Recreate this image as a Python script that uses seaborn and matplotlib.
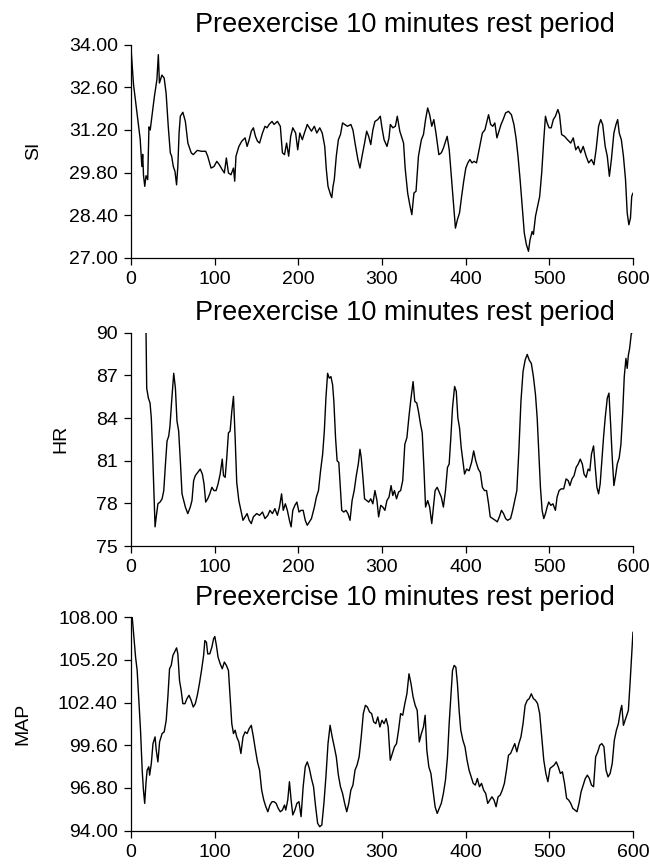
import matplotlib
matplotlib.use("Agg")
import matplotlib.pyplot as plt
import seaborn as sns
import pandas as pd
from matplotlib.ticker import FormatStrFormatter

# ---------------- data (time in s, value) ----------------
title_text = "Preexercise 10 minutes rest period"
x_ticks = [0, 100, 200, 300, 400, 500, 600]

si_label = "SI"
si_ticks = [27.00, 28.40, 29.80, 31.20, 32.60, 34.00]
si_readings = [
    (0, 33.9), (3, 32.7), (7, 31.8), (11, 30.9), (13, 30.0), (14, 30.4), (15, 29.7), (16.5, 29.35),
    (18, 29.7), (20, 29.57), (21.5, 31.3), (23, 31.2), (25, 31.65), (28, 32.3), (31, 32.85), (32.7, 33.67),
    (34, 32.74), (37, 33.0), (39.7, 32.9), (42, 32.4), (44.6, 31.3), (47, 30.45), (48.6, 30.34), (50.6, 30.0),
    (52.6, 29.84), (54.5, 29.4), (56, 30.0), (57.5, 31.1), (59, 31.65), (62, 31.78), (65, 31.48), (68, 30.77),
    (72, 30.45), (74.4, 30.39), (79.3, 30.53), (84.3, 30.5), (89.3, 30.5), (91.7, 30.34), (95.7, 29.95),
    (99.2, 30.0), (102.6, 30.17), (105.6, 30.06), (109, 29.9), (111.6, 29.79), (114, 30.28), (116.5, 29.79),
    (119.5, 29.73), (122.5, 29.95), (124, 29.52), (125.5, 30.34), (129, 30.66), (132.4, 30.83), (136.4, 30.94),
    (138.8, 30.66), (141.3, 30.88), (143.8, 31.16), (146.3, 31.27), (148.8, 30.99), (151.2, 30.83),
    (153.7, 30.77), (157.2, 31.1), (160.2, 31.32), (162.6, 31.27), (165.1, 31.38), (168.6, 31.48), (171, 31.38),
    (175, 31.48), (178.5, 31.32), (181, 30.45), (183.5, 30.39), (186, 30.77), (188.5, 30.34), (190.9, 30.99),
    (193.4, 31.27), (196.8, 31.1), (199.3, 30.55), (201.8, 31.1), (204.8, 30.88), (207.3, 31.1), (210.7, 31.38),
    (213.2, 31.27), (215.7, 31.16), (219.2, 31.32), (222.1, 31.1), (225.6, 31.27), (228.6, 31.1), (231.6, 30.66),
    (233.5, 29.9), (235.5, 29.35), (238.5, 29.08), (240, 28.98), (241.5, 29.35), (243, 29.57), (245.4, 30.34),
    (247.9, 30.88), (250.4, 31.05), (252.9, 31.43), (255.4, 31.38), (258.8, 31.32), (262.8, 31.38), (265.3, 31.2),
    (267.8, 30.77), (271.2, 30.23), (273.7, 29.95), (276.2, 30.34), (279.2, 30.77), (281.7, 31.16), (284.1, 30.99),
    (286.6, 30.72), (289.1, 31.2), (291.6, 31.48), (295, 31.54), (298, 31.65), (300, 31.27), (302.5, 30.88),
    (306, 30.66), (308.4, 30.94), (310, 31.38), (313, 31.27), (316, 31.32), (318.3, 31.65), (321.3, 31.16),
    (323.3, 30.99), (325.8, 30.77), (327.7, 29.95), (330.7, 29.13), (333.2, 28.75), (335.7, 28.42), (338.2, 29.13),
    (340.7, 29.19), (343.6, 30.34), (347.1, 30.88), (349.6, 31.05), (352.1, 31.54), (354.6, 31.92), (357, 31.7),
    (359.5, 31.32), (362, 31.54), (364.5, 31.1), (368, 30.39), (371, 30.45), (373.5, 30.61), (375.4, 30.77),
    (377.9, 30.99), (380.4, 30.55), (382.8, 29.73), (385.3, 28.91), (387.8, 27.98), (390.2, 28.26), (392.7, 28.48),
    (395.2, 29.02), (397.7, 29.52), (400.2, 29.95), (402.6, 30.12), (405.1, 30.23), (407.6, 30.12), (410.1, 30.17),
    (413, 30.12), (416.5, 30.61), (420, 31.1), (423, 31.2), (425, 31.43), (427.4, 31.7), (429.9, 31.38),
    (432.4, 31.32), (434.9, 31.43), (437.4, 30.94), (439.8, 31.16), (442.3, 31.38), (444.8, 31.54), (447.8, 31.76),
    (451.2, 31.81), (454.7, 31.7), (457.7, 31.38), (460.2, 30.94), (462.6, 30.34), (465.1, 29.57), (467.6, 28.7),
    (470.1, 27.82), (472.6, 27.44), (475.1, 27.22), (477, 27.6), (479.5, 27.87), (481, 27.77), (483.5, 28.37),
    (486, 28.7), (488.5, 29.02), (490.9, 29.79), (493.4, 30.88), (495.4, 31.65), (497.4, 31.43), (499.8, 31.27),
    (502.3, 31.27), (504.8, 31.54), (507.3, 31.65), (510.2, 31.87), (512.2, 31.7), (514.7, 31.05), (518.2, 30.99),
    (521.7, 30.88), (525.6, 30.77), (528.6, 30.94), (531.6, 30.55), (534.5, 30.66), (537.5, 30.45), (540.5, 30.66),
    (544, 30.34), (547, 30.12), (550.4, 30.23), (553.4, 30.06), (555.9, 30.55), (558.9, 31.32), (561.4, 31.54),
    (563.8, 31.38), (566.8, 30.66), (569.3, 30.34), (571.8, 29.68), (574.2, 30.23), (577.2, 31.1), (579.7, 31.38),
    (581.7, 31.54), (583.6, 31.1), (586.1, 30.88), (588.6, 30.34), (591.1, 29.57), (593.1, 28.48), (595.1, 28.09),
    (597, 28.31), (598.5, 29.02), (600, 29.13),
]

hr_label = "HR"
hr_ticks = [75, 78, 81, 84, 87, 90]
hr_readings = [
    (18, 90.0), (18.8, 86.1), (20.8, 85.4), (22.8, 85.05), (24.3, 84.0), (25.8, 81.7), (27.8, 77.97), (28.8, 76.35),
    (30.2, 77.05), (32.2, 77.97), (34.7, 78.09), (37.2, 78.32), (39.2, 78.9), (41.2, 80.76), (43.1, 82.38),
    (45.1, 82.73), (46.6, 83.43), (48.6, 85.17), (51.1, 87.14), (53.1, 86.1), (55, 83.78), (57, 83.08), (59, 80.99),
    (61, 78.67), (63, 78.2), (65, 77.74), (67.9, 77.28), (70.9, 77.74), (72.9, 78.2), (74.9, 79.6), (76.9, 79.95),
    (79.8, 80.18), (82.8, 80.41), (85.3, 80.06), (87.3, 79.37), (89.3, 78.09), (91.7, 78.32), (94.2, 78.67),
    (96.7, 79.13), (99.2, 78.9), (101.7, 78.9), (104.1, 79.37), (106.6, 80.06), (109.1, 81.11), (110.6, 79.95),
    (112.6, 79.83), (114.5, 81.22), (116.5, 82.96), (118.5, 83.08), (120.5, 84.47), (122.5, 85.52), (124.5, 82.62),
    (126.4, 79.48), (128.9, 78.2), (131.4, 77.51), (133.9, 76.81), (136.4, 77.05), (138.8, 77.28), (141.3, 76.81),
    (143.8, 76.58), (146.3, 77.05), (150.2, 77.28), (153.7, 77.16), (157.2, 77.39), (160.2, 76.93), (163.6, 77.16),
    (166.1, 77.51), (169.1, 77.28), (172, 77.63), (175, 77.16), (177.5, 77.74), (180, 78.67), (182, 77.51),
    (184.5, 77.97), (186.9, 77.51), (189.4, 76.81), (191.4, 76.35), (193.4, 77.51), (195.9, 77.86), (198.3, 78.09),
    (200.8, 77.39), (203.3, 77.51), (205.8, 77.51), (208.3, 76.81), (210.7, 76.46), (213.2, 76.7), (215.7, 76.93),
    (219.2, 77.74), (221.6, 78.44), (224.1, 78.9), (226.6, 80.29), (229.1, 81.46), (231.1, 83.08), (233, 85.4),
    (235, 87.14), (237, 86.8), (239, 86.91), (241, 86.33), (242.5, 85.17), (244.5, 82.62), (246.4, 80.99),
    (248.4, 80.88), (250.4, 78.9), (251.9, 77.51), (254.4, 77.39), (256.9, 77.51), (259.3, 77.28), (261.8, 76.81),
    (264.3, 78.2), (266.8, 78.9), (269.3, 79.95), (271.7, 80.76), (273.7, 81.8), (275.2, 81.22), (277.2, 79.83),
    (279.2, 78.32), (281.7, 78.2), (284.1, 78.09), (286.6, 78.32), (289.1, 77.97), (291.6, 78.9), (294, 78.2),
    (296, 77.05), (298.5, 77.86), (301, 77.74), (303.5, 77.51), (305.9, 78.2), (308.4, 78.44), (310.9, 79.25),
    (312.9, 78.55), (314.9, 78.9), (317.4, 78.32), (319.8, 78.79), (322.3, 78.9), (324.8, 79.6), (327.3, 82.15),
    (329.8, 82.62), (332.3, 84.13), (334.7, 85.4), (337.2, 86.56), (339.2, 85.17), (341.6, 85.05), (343.6, 84.47),
    (346.1, 83.55), (348.1, 82.96), (350.1, 80.53), (352.1, 77.74), (354.6, 78.2), (357, 77.74), (359.5, 76.58),
    (361.5, 77.74), (363.5, 78.9), (366, 79.13), (368.4, 78.79), (370.9, 78.44), (373.4, 77.74), (375.9, 78.9),
    (378.3, 80.53), (380.3, 80.76), (382.3, 82.62), (384.3, 84.71), (386.8, 86.22), (388.8, 85.87), (390.7, 84.01),
    (392.7, 83.31), (394.7, 81.92), (396.7, 80.99), (398.7, 80.06), (401.2, 80.41), (404.1, 80.29), (407.1, 80.88),
    (409.6, 81.69), (412.1, 80.99), (415.1, 80.41), (417.5, 80.18), (420, 79.13), (422.5, 78.9), (425, 78.9),
    (427.4, 77.97), (429.4, 77.05), (432.4, 76.93), (435.4, 76.81), (437.8, 76.7), (440.3, 77.05), (442.8, 77.51),
    (445.3, 77.28), (447.8, 76.93), (450.2, 76.81), (453.7, 76.93), (456.2, 77.51), (458.7, 78.2), (461.2, 78.9),
    (463.6, 81.69), (466.1, 85.17), (468.6, 87.26), (471.1, 88.07), (473.6, 88.47), (476, 88.07), (478.5, 87.84),
    (481, 86.91), (483.5, 85.63), (485.5, 84.01), (487.5, 81.46), (489.4, 79.13), (491.4, 77.51), (493.4, 76.93),
    (495.4, 77.28), (497.4, 77.74), (499.3, 78.09), (501.8, 77.86), (504.3, 77.97), (507.3, 77.51), (509.3, 78.44),
    (511.7, 78.9), (514.2, 79.02), (517.2, 79.02), (520.1, 79.72), (522.6, 79.6), (524.6, 79.25), (527.1, 79.72),
    (529.6, 79.95), (532.1, 80.53), (534.5, 80.76), (537, 81.11), (539.5, 80.76), (541.5, 80.06), (544, 79.83),
    (546.4, 80.41), (548.4, 80.29), (550.4, 81.46), (552.9, 82.04), (554.9, 80.53), (556.9, 79.13), (558.9, 78.67),
    (560.8, 79.37), (562.8, 80.99), (564.8, 82.62), (566.8, 84.01), (569.3, 85.4), (571.3, 85.75), (573.3, 83.55),
    (575.2, 81.22), (577.2, 79.25), (579.2, 79.95), (581.2, 80.76), (583.6, 81.22), (585.6, 82.15), (587.6, 84.24),
    (589.6, 86.91), (591.6, 88.19), (593.1, 87.49), (594.5, 88.42), (596, 88.89), (598, 89.93), (599, 90.0),
]

map_label = "MAP"
map_ticks = [94.00, 96.80, 99.60, 102.40, 105.20, 108.00]
map_readings = [
    (1.5, 108.0), (3.5, 106.69), (5.5, 105.38), (7.4, 104.51), (9.4, 102.55), (11.4, 100.59), (13.4, 97.97),
    (14.9, 96.66), (16.4, 95.79), (17.9, 97.1), (19.3, 97.97), (21.3, 98.19), (22.3, 97.64), (24.3, 98.4),
    (26.3, 99.71), (28.8, 100.15), (30.2, 99.28), (32.2, 98.51), (34.2, 99.82), (37.2, 100.37), (39.7, 100.48),
    (42.1, 101.24), (44.1, 102.77), (46.1, 104.62), (48.1, 104.84), (50.1, 105.49), (52.1, 105.71), (54.5, 105.99),
    (56, 105.6), (58, 103.86), (60, 103.2), (62, 102.33), (64.5, 102.33), (66.9, 102.66), (69.4, 102.88),
    (71.9, 102.55), (74.4, 102.11), (76.9, 102.33), (79.3, 102.88), (81.8, 103.64), (84.3, 104.51), (86.8, 105.49),
    (88.3, 106.47), (90.2, 106.36), (91.7, 105.6), (94.2, 105.6), (96.7, 106.04), (98.7, 106.58), (100.2, 106.74),
    (102.1, 106.15), (104.1, 105.38), (106.6, 104.95), (109.1, 104.62), (111.6, 105.06), (114, 104.84),
    (116.5, 104.51), (118.5, 102.77), (120.5, 101.02), (122.5, 100.37), (124.5, 100.59), (126.4, 100.15),
    (128.9, 99.82), (131.4, 99.06), (133.9, 100.15), (136.4, 100.48), (138.8, 100.37), (141.3, 100.7),
    (143.8, 100.91), (146.3, 100.15), (148.8, 99.28), (151.2, 98.51), (153.7, 97.97), (156.2, 96.66), (158.7, 96.01),
    (161.2, 95.57), (163.6, 95.24), (166.1, 95.68), (168.6, 95.9), (171, 95.9), (173.5, 95.79), (176, 95.46),
    (178.5, 95.24), (181, 95.35), (183.5, 95.68), (185, 95.35), (187.4, 96.01), (189.4, 97.21), (191.4, 96.01),
    (193.4, 95.03), (195.9, 95.35), (198.3, 95.79), (200.8, 95.9), (203.3, 94.92), (205.8, 96.88), (208.3, 98.19),
    (210.7, 98.51), (213.2, 98.08), (215.7, 97.42), (218.2, 96.88), (220.7, 95.57), (223.1, 94.48), (225.6, 94.26),
    (228.1, 94.37), (230.6, 95.79), (233, 97.53), (235.5, 99.71), (238, 100.91), (240.5, 100.15), (243, 99.5),
    (245.4, 98.84), (247.9, 97.64), (250.4, 96.88), (252.9, 96.44), (255.4, 95.79), (257.9, 95.24), (260.3, 95.79),
    (262.8, 96.66), (265.3, 96.99), (267.8, 97.97), (270.2, 98.3), (272.7, 98.84), (275.2, 100.15), (277.7, 101.68),
    (280.2, 102.22), (282.6, 102.11), (285.1, 101.79), (287.6, 101.68), (290.1, 101.13), (292.6, 101.02),
    (295, 101.46), (297.5, 100.8), (300, 101.24), (302.5, 101.02), (305, 101.35), (307.4, 100.8), (309.9, 98.62),
    (312.4, 99.06), (314.9, 99.5), (317.4, 99.71), (319.8, 100.59), (322.3, 101.68), (324.8, 101.57),
    (327.3, 102.33), (329.8, 102.98), (332.3, 104.29), (334.7, 103.64), (337.2, 102.77), (339.7, 102.22),
    (342.1, 101.89), (344.6, 99.82), (347.1, 100.37), (349.6, 100.8), (351.6, 101.57), (353.6, 99.28), (356, 98.19),
    (358.5, 97.75), (361, 96.66), (363.5, 95.57), (366, 95.13), (368.4, 95.46), (370.9, 95.79), (373.4, 96.44),
    (375.9, 97.32), (378.3, 98.84), (380.3, 101.02), (382.3, 102.77), (384.3, 104.51), (386.3, 104.84),
    (388.3, 104.73), (390.2, 103.64), (392.2, 101.89), (394.2, 100.59), (396.7, 99.93), (399.2, 99.5),
    (401.7, 98.62), (404.1, 97.97), (406.6, 97.53), (409.1, 97.1), (411.6, 96.99), (414, 97.42), (416.5, 96.88),
    (419, 97.1), (421.5, 96.66), (424, 96.44), (426.4, 95.79), (428.9, 96.01), (431.4, 96.22), (433.9, 96.01),
    (436.4, 95.57), (438.8, 96.22), (441.3, 96.33), (443.8, 96.66), (446.3, 97.1), (448.8, 97.97), (451.2, 98.95),
    (453.7, 99.06), (456.2, 99.39), (458.7, 99.71), (461.2, 99.17), (463.6, 99.71), (466.1, 100.15), (468.6, 101.02),
    (471.1, 102.22), (473.6, 102.55), (476, 102.66), (478.5, 102.98), (481, 102.66), (483.5, 102.55), (486, 102.33),
    (488.5, 101.68), (490.9, 100.15), (493.4, 98.62), (495.9, 97.75), (498.3, 97.21), (500.8, 98.08),
    (503.3, 98.19), (505.8, 98.3), (508.3, 98.51), (510.7, 98.19), (513.2, 97.75), (515.7, 97.86), (518.2, 97.1),
    (520.7, 96.12), (523.1, 96.01), (525.6, 95.79), (528.1, 95.46), (530.6, 95.35), (533.1, 95.24), (535.5, 95.79),
    (538, 96.55), (540.5, 96.99), (543, 97.42), (545.5, 97.64), (547.9, 97.42), (550.4, 96.99), (552.9, 96.88),
    (555.4, 98.84), (557.9, 99.17), (560.3, 99.6), (562.8, 99.71), (565.3, 99.5), (567.8, 97.97), (570.2, 97.53),
    (572.7, 97.75), (575.2, 98.4), (577.7, 99.93), (580.2, 100.59), (582.6, 101.02), (585.1, 101.89),
    (586.6, 102.22), (588.6, 100.91), (590.6, 101.24), (592.6, 101.57), (594.5, 101.89), (596.5, 103.64),
    (598.5, 105.6), (600, 107.02),
]

# ---------------- style ----------------
sns.set_style("ticks")
plt.rcParams['font.family'] = ['Liberation Sans', 'DejaVu Sans']
plt.rcParams['axes.edgecolor'] = 'black'
plt.rcParams['axes.linewidth'] = 0.9
plt.rcParams['xtick.color'] = 'black'
plt.rcParams['ytick.color'] = 'black'
plt.rcParams['text.color'] = 'black'
plt.rcParams['axes.labelcolor'] = 'black'
plt.rcParams['axes.titlecolor'] = 'black'

fig = plt.figure(figsize=(6.5, 8.64), dpi=100)
fig.patch.set_facecolor('white')

left, width, height = 0.2015, 0.7723, 0.247
bottoms = [0.7014, 0.368, 0.0386]

panels = [
    (si_readings, si_label, si_ticks, '%.2f'),
    (hr_readings, hr_label, hr_ticks, '%d'),
    (map_readings, map_label, map_ticks, '%.2f'),
]

for (readings, label, yticks, fmt), b in zip(panels, bottoms):
    ax = fig.add_axes([left, b, width, height])
    df = pd.DataFrame(readings, columns=['time', 'value'])
    sns.lineplot(data=df, x='time', y='value', ax=ax, color='black',
                 linewidth=1.0, estimator=None, sort=False)
    ax.set_xlim(0, 600)
    ax.set_ylim(yticks[0], yticks[-1])
    ax.set_xticks(x_ticks)
    ax.set_yticks(yticks)
    ax.yaxis.set_major_formatter(FormatStrFormatter(fmt))
    ax.tick_params(axis='both', direction='out', length=5, width=0.9,
                   labelsize=14, pad=4.5, labelcolor='black')
    ax.set_xlabel('')
    ax.set_ylabel(label, fontsize=14, labelpad=19, color='black')
    ax.set_title(title_text, fontsize=19.5, x=0.545, pad=9, color='black')
    sns.despine(ax=ax)

fig.savefig("out.png", dpi=100, facecolor='white')
